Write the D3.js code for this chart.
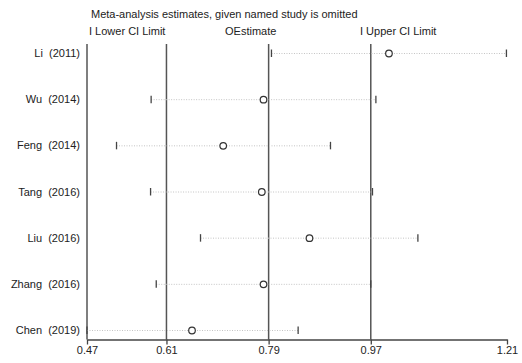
<!DOCTYPE html>
<html>
<head>
<meta charset="utf-8">
<script src="https://cdn.jsdelivr.net/npm/d3@7"></script>
<style>
  body { margin: 0; background: #fff; }
  text { font-family: "Liberation Sans", Arial, sans-serif; fill: #222; }
</style>
</head>
<body>
<div id="chart"></div>
<script>
// study labels, top to bottom
const studies = ["Li\u00a0\u00a0(2011)", "Wu\u00a0\u00a0(2014)", "Feng\u00a0\u00a0(2014)", "Tang\u00a0\u00a0(2016)", "Liu\u00a0\u00a0(2016)", "Zhang\u00a0\u00a0(2016)", "Chen\u00a0\u00a0(2019)"];
const estimate = [1.002, 0.781, 0.710, 0.778, 0.862, 0.781, 0.655];
const lowerCI  = [0.795, 0.583, 0.522, 0.582, 0.670, 0.592, 0.47];
const upperCI  = [1.209, 0.979, 0.899, 0.973, 1.053, 0.970, 0.842];
const tickVals = [0.47, 0.61, 0.79, 0.97, 1.21];
const refLines = [0.61, 0.79, 0.97];

const width = 522, height = 363;
const margin = { top: 44, right: 15, bottom: 24, left: 87 };

const svg = d3.select("#chart").append("svg")
  .attr("width", width).attr("height", height);

const x = d3.scaleLinear().domain([0.47, 1.21]).range([margin.left, width - margin.right]);
const y = d3.scalePoint().domain(studies).range([53, 330]);
const axisY = height - margin.bottom + 0.5;

// title + legend
svg.append("text").attr("x", 91).attr("y", 18).style("font-size", "11px")
  .text("Meta-analysis estimates, given named study is omitted");
svg.append("text").attr("x", 89).attr("y", 35).style("font-size", "11px").text("I Lower CI Limit");
svg.append("text").attr("x", 225).attr("y", 35).style("font-size", "11px").text("OEstimate");
svg.append("text").attr("x", 360).attr("y", 35).style("font-size", "11px").text("I Upper CI Limit");

// reference lines + left axis line
svg.selectAll(".ref").data([0.47].concat(refLines)).enter().append("line")
  .attr("x1", d => x(d)).attr("x2", d => x(d))
  .attr("y1", margin.top).attr("y2", axisY)
  .attr("stroke", "#555").attr("stroke-width", 1.5);

// dotted CI lines
svg.selectAll(".ci").data(studies).enter().append("line")
  .attr("x1", (d, i) => x(lowerCI[i])).attr("x2", (d, i) => x(upperCI[i]))
  .attr("y1", d => y(d) + 0.5).attr("y2", d => y(d) + 0.5)
  .attr("stroke", "#c4c4c4").attr("stroke-width", 1).attr("stroke-dasharray", "1,1.5");

// CI limit ticks
[lowerCI, upperCI].forEach(arr => {
  svg.selectAll(null).data(studies).enter().append("line")
    .attr("x1", (d, i) => x(arr[i])).attr("x2", (d, i) => x(arr[i]))
    .attr("y1", d => y(d) - 3.5).attr("y2", d => y(d) + 4)
    .attr("stroke", "#444").attr("stroke-width", 1.3);
});

// estimates
svg.selectAll(".est").data(studies).enter().append("circle")
  .attr("cx", (d, i) => x(estimate[i])).attr("cy", d => y(d) + 0.5)
  .attr("r", 3.3).attr("fill", "#fff").attr("stroke", "#333").attr("stroke-width", 1.2);

// study labels
svg.selectAll(".lab").data(studies).enter().append("text")
  .attr("x", 80).attr("y", d => y(d) + 4)
  .attr("text-anchor", "end").style("font-size", "11px")
  .text(d => d);

// bottom axis
const xAxis = d3.axisBottom(x).tickValues(tickVals).tickFormat(d3.format(".2f"))
  .tickSize(5).tickSizeOuter(0);
const gx = svg.append("g").attr("transform", `translate(0,${axisY})`).call(xAxis);
gx.select(".domain").attr("stroke", "#444").attr("stroke-width", 1.3);
gx.selectAll(".tick line").attr("stroke", "#444").attr("stroke-width", 1.3);
gx.selectAll(".tick text").style("font-size", "11px").attr("fill", "#222")
  .style("font-family", "'Liberation Sans', Arial, sans-serif").attr("dy", "0.55em");
</script>
</body>
</html>
